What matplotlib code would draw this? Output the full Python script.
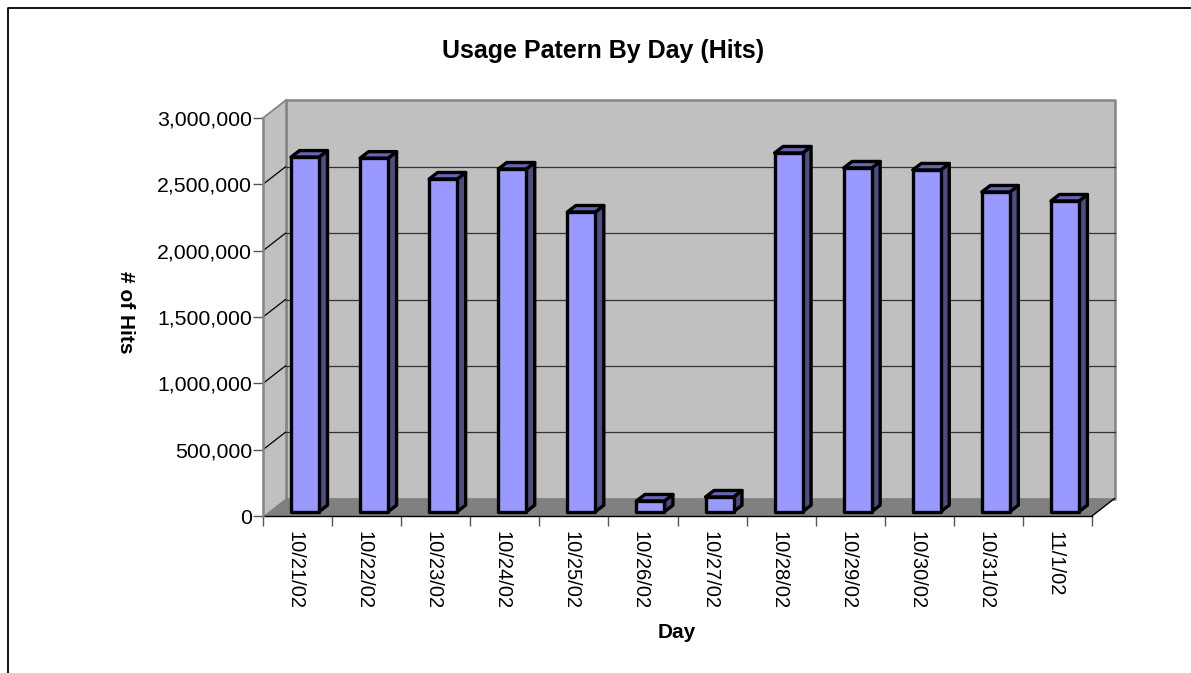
import matplotlib
matplotlib.use('Agg')
import matplotlib.pyplot as plt
from matplotlib.patches import Polygon
from matplotlib.ticker import FuncFormatter
from matplotlib.transforms import ScaledTranslation

plt.rcParams['font.family'] = ['Liberation Sans', 'DejaVu Sans']

days = ['10/21/02','10/22/02','10/23/02','10/24/02','10/25/02','10/26/02',
        '10/27/02','10/28/02','10/29/02','10/30/02','10/31/02','11/1/02']
hits = [2673000,2665000,2508000,2583000,2259000,81000,
        111000,2704000,2591000,2576000,2410000,2342000]
yticks = [0,500000,1000000,1500000,2000000,2500000,3000000]

W, H = 1191, 673
fig = plt.figure(figsize=(W/100, H/100), dpi=100, facecolor='white')
# front plane of the 3d box, in pixels of the figure
left, right, top, bottom = 263, 1092, 118, 516
ax = fig.add_axes([left/W, 1-bottom/H, (right-left)/W, (bottom-top)/H])
ax.set_xlim(0, 12)
ax.set_ylim(0, 3000000)
ax.patch.set_visible(False)
for s in ax.spines.values():
    s.set_visible(False)

# depth of the box in axis units
px_x = 12/(right-left)
px_y = 3000000/(bottom-top)
dx = 22.5*px_x
dy = 17.5*px_y
ymax = 3000000
nx = len(days)

def poly(pts, fc, ec='none', lw=0, z=1):
    ax.add_patch(Polygon(pts, closed=True, facecolor=fc, edgecolor=ec,
                         linewidth=lw, zorder=z, clip_on=False, joinstyle='round'))

wall_edge = '#868686'
poly([(dx,dy),(nx+dx,dy),(nx+dx,ymax+dy),(dx,ymax+dy)], '#c0c0c0', wall_edge, 1.8, 1)
poly([(0,0),(dx,dy),(dx,ymax+dy),(0,ymax)], '#c0c0c0', z=1.1)
ax.plot([dx,dx],[dy,ymax+dy], color=wall_edge, lw=1.8, zorder=1.2, clip_on=False)
poly([(0,0),(nx,0),(nx+dx,dy),(dx,dy)], '#808080', z=1.5)

for v in yticks[1:-1]:
    ax.plot([dx,nx+dx],[v+dy,v+dy], color='#333333', lw=0.9, zorder=2, clip_on=False)
    ax.plot([0,dx],[v,v+dy], color='black', lw=0.9, zorder=2, clip_on=False)

# axis lines and ticks
ax.plot([0,nx],[0,0], color='black', lw=1, zorder=2.5, clip_on=False)
ax.plot([nx,nx+dx],[0,dy], color='black', lw=1, zorder=2.5, clip_on=False)
ax.plot([0,dx],[ymax,ymax+dy], color=wall_edge, lw=1.3, zorder=1.6, clip_on=False)
ax.plot([0,0],[0,ymax], color=wall_edge, lw=1.8, zorder=2.5, clip_on=False)

# bars
bar_off = 28*px_x
bar_w = 28*px_x
base = 4.3*px_y
bdx = 8.5*px_x
bdy = 6.5*px_y
for i, v in enumerate(hits):
    x0 = i+bar_off
    x1 = x0+bar_w
    y0 = base
    y1 = base+v
    poly([(x1,y0),(x1+bdx,y0+bdy),(x1+bdx,y1+bdy),(x1,y1)], '#4d4d80', 'black', 2.4, 3)
    poly([(x0,y1),(x1,y1),(x1+bdx,y1+bdy),(x0+bdx,y1+bdy)], '#6666b3', 'black', 2.4, 3)
    poly([(x0,y0),(x1,y0),(x1,y1),(x0,y1)], '#9999ff', 'black', 2.4, 3.1)

ax.set_yticks(yticks)
ax.yaxis.set_major_formatter(FuncFormatter(lambda v, p: format(int(v), ',')))
ax.set_xticks(range(nx+1))
ax.set_xticks([i+0.5 for i in range(nx)], minor=True)
ax.set_xticklabels([])
ax.set_xticklabels(days, minor=True, rotation=-90, fontsize=14.5, va='top', ha='center')
ax.tick_params(axis='y', length=7, width=1, color='#555555', labelsize=15.3, pad=1)
ax.tick_params(axis='x', which='major', length=7, width=1, color='#555555')
ax.tick_params(axis='x', which='minor', length=0, pad=11)
# date labels sit a little left of the category middle
shift = ScaledTranslation(-2.5/100, 0, fig.dpi_scale_trans)
for lab in ax.get_xticklabels(minor=True):
    lab.set_transform(lab.get_transform()+shift)

fig.text(603/W, 1-51/H, 'Usage Patern By Day (Hits)', fontsize=18, fontweight='bold', ha='center', va='center')
fig.text(677/W, 1-632/H, 'Day', fontsize=15, fontweight='bold', ha='center', va='center')
fig.text(125/W, 1-312/H, '# of Hits', fontsize=15, fontweight='bold', rotation=-90, ha='center', va='center')

# chart frame: left and top only, runs off the picture
fig.add_artist(plt.Line2D([8/W,8/W,1],[0,1-8/H,1-8/H], color='black', lw=1.3))

plt.savefig('out.png', dpi=100)
